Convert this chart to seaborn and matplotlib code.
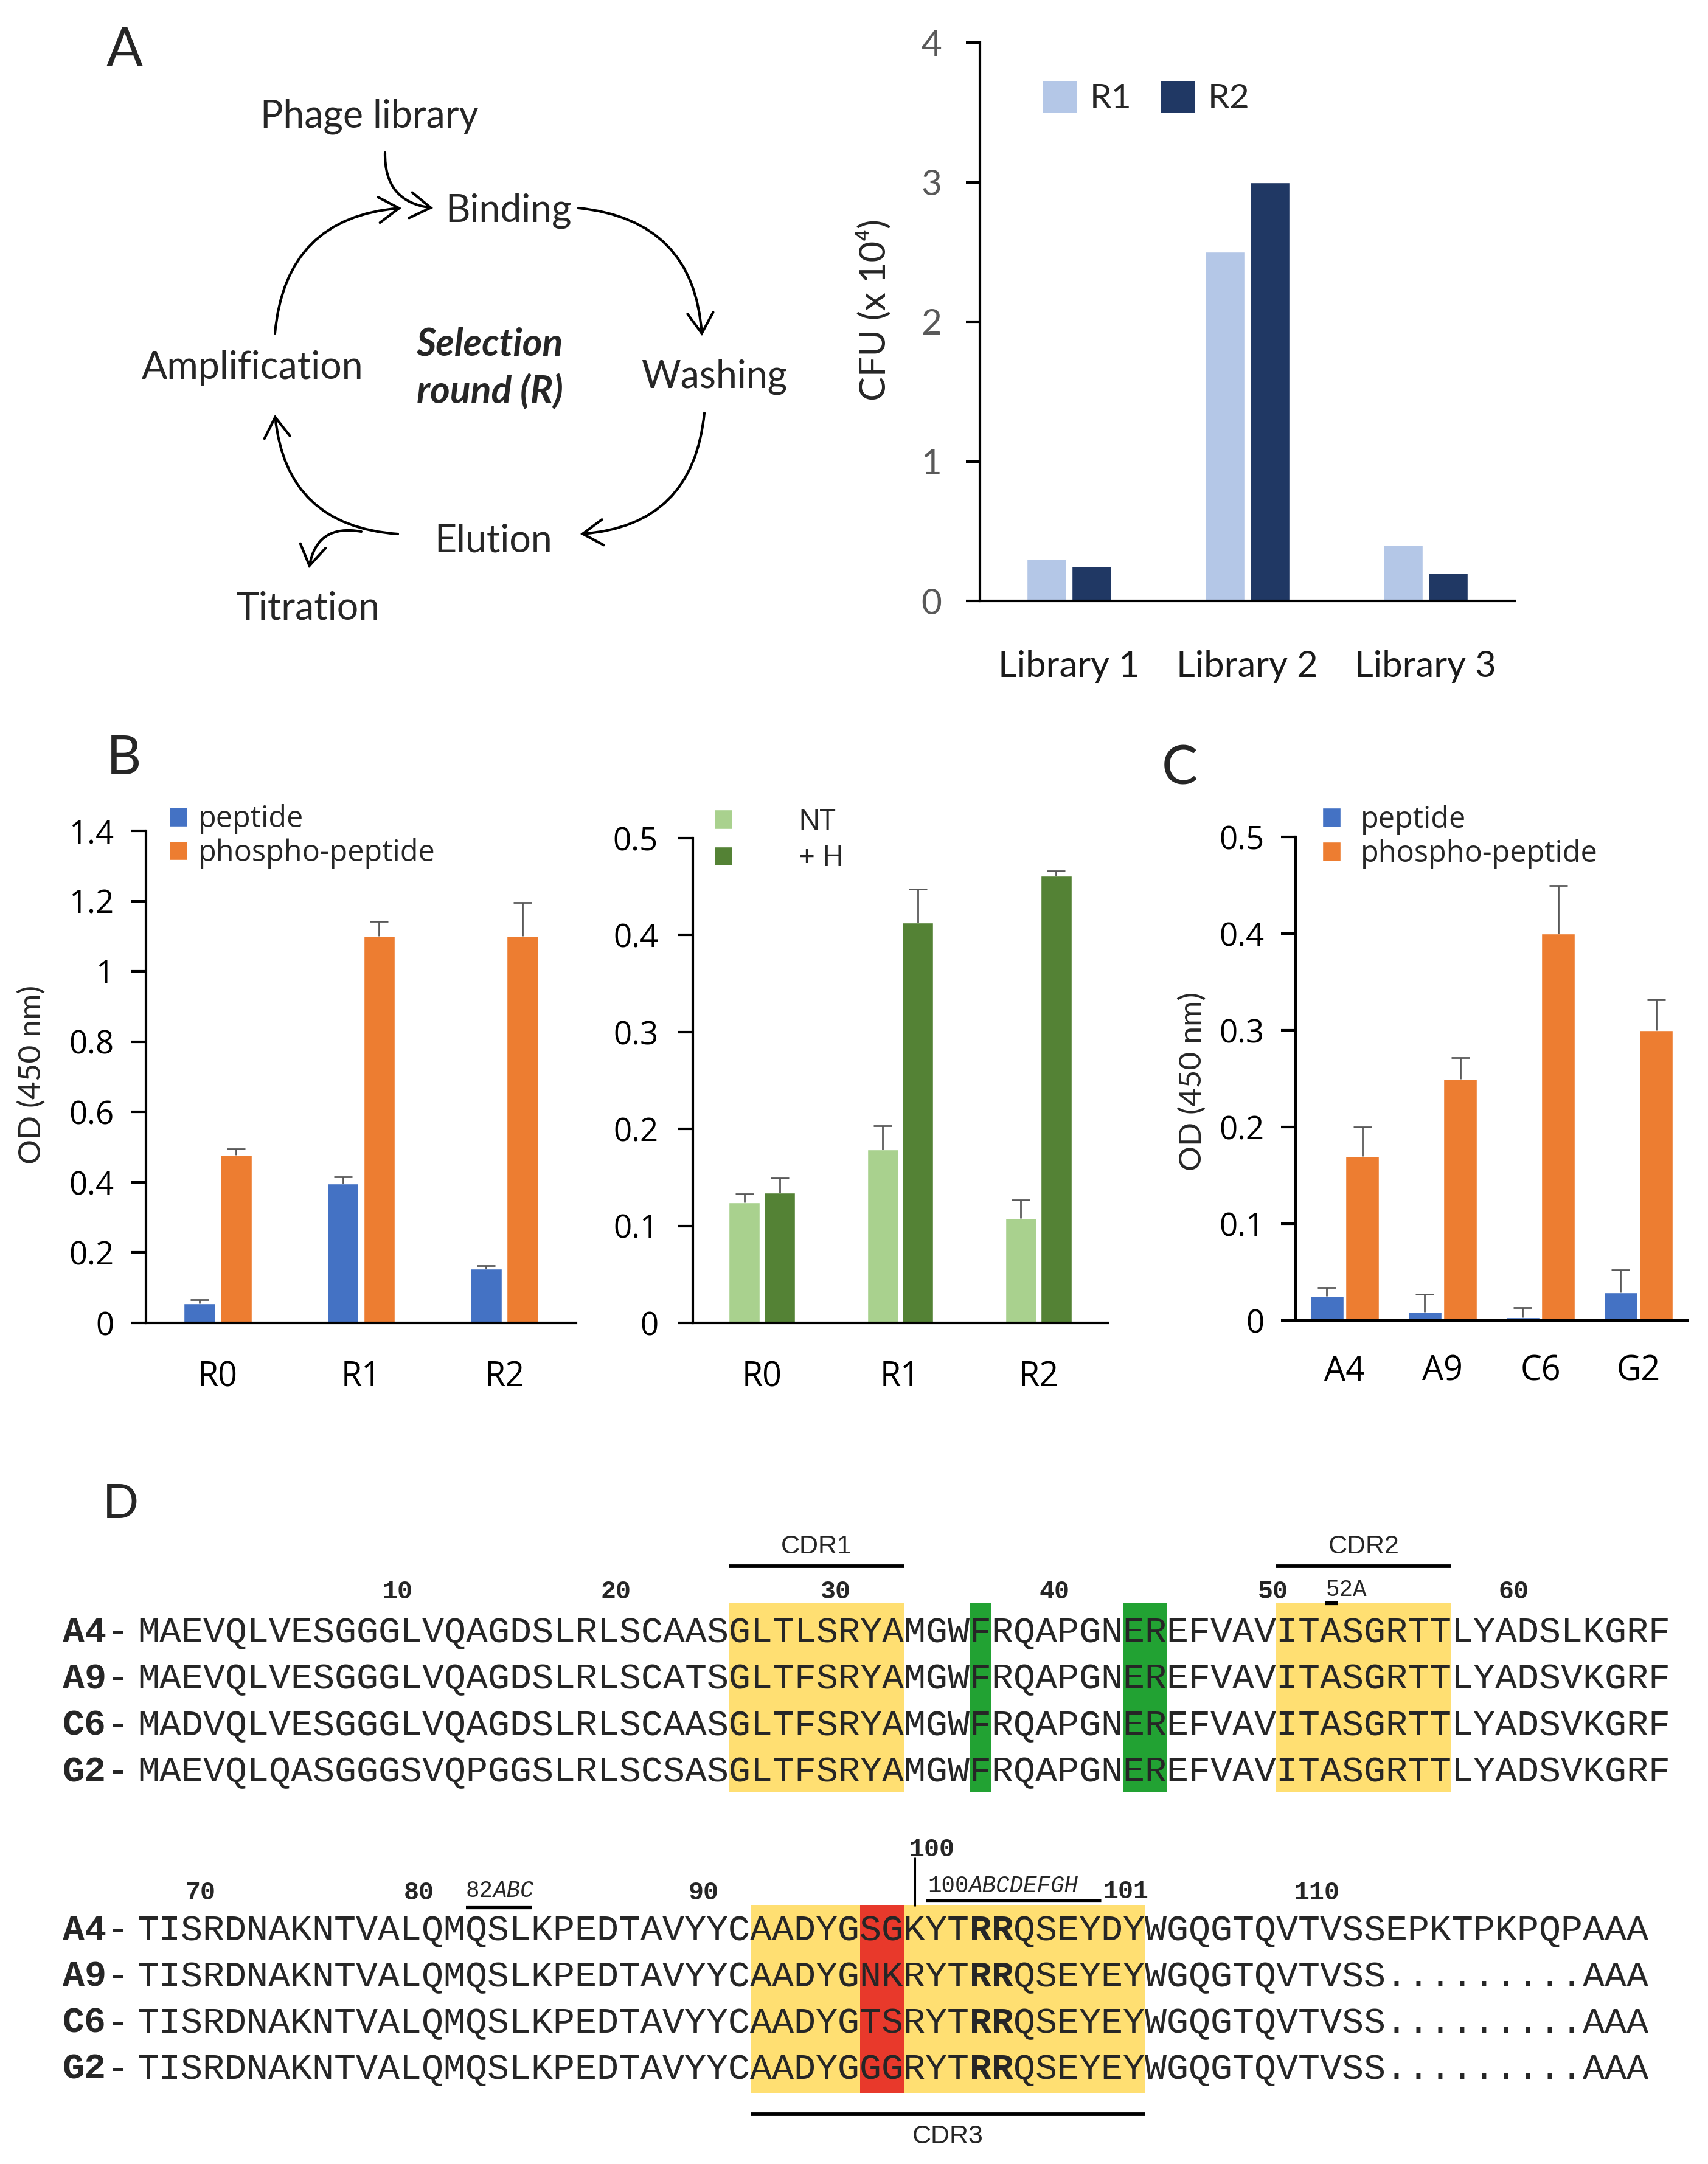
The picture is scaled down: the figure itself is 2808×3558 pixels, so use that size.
import numpy as np
import pandas as pd
import matplotlib
matplotlib.use("Agg")
import matplotlib.pyplot as plt
import seaborn as sns
from matplotlib.patches import FancyArrowPatch, Rectangle

# ---------------- data ----------------
libraries = ["Library 1", "Library 2", "Library 3"]
cfu_r1 = [0.30, 2.50, 0.40]
cfu_r2 = [0.25, 3.00, 0.20]

rounds = ["R0", "R1", "R2"]
b_peptide = [0.055, 0.397, 0.154]
b_peptide_err = [0.010, 0.018, 0.009]
b_phospho = [0.478, 1.100, 1.100]
b_phospho_err = [0.017, 0.043, 0.096]

b_nt = [0.124, 0.179, 0.108]
b_nt_err = [0.009, 0.024, 0.019]
b_h = [0.134, 0.413, 0.461]
b_h_err = [0.015, 0.034, 0.005]

clones = ["A4", "A9", "C6", "G2"]
c_peptide = [0.025, 0.009, 0.003, 0.029]
c_peptide_err = [0.009, 0.018, 0.010, 0.023]
c_phospho = [0.17, 0.25, 0.40, 0.30]
c_phospho_err = [0.030, 0.022, 0.050, 0.032]

seq_names = ["A4", "A9", "C6", "G2"]
seq_block1 = [
    "MAEVQLVESGGGLVQAGDSLRLSCAASGLTLSRYAMGWFRQAPGNEREFVAVITASGRTTLYADSLKGRF",
    "MAEVQLVESGGGLVQAGDSLRLSCATSGLTFSRYAMGWFRQAPGNEREFVAVITASGRTTLYADSVKGRF",
    "MADVQLVESGGGLVQAGDSLRLSCAASGLTFSRYAMGWFRQAPGNEREFVAVITASGRTTLYADSVKGRF",
    "MAEVQLQASGGGSVQPGGSLRLSCSASGLTFSRYAMGWFRQAPGNEREFVAVITASGRTTLYADSVKGRF",
]
seq_block2 = [
    "TISRDNAKNTVALQMQSLKPEDTAVYYCAADYGSGKYTRRQSEYDYWGQGTQVTVSSEPKTPKPQPAAA",
    "TISRDNAKNTVALQMQSLKPEDTAVYYCAADYGNKRYTRRQSEYEYWGQGTQVTVSS.........AAA",
    "TISRDNAKNTVALQMQSLKPEDTAVYYCAADYGTSRYTRRQSEYEYWGQGTQVTVSS.........AAA",
    "TISRDNAKNTVALQMQSLKPEDTAVYYCAADYGGGRYTRRQSEYEYWGQGTQVTVSS.........AAA",
]
yellow_block1 = [(27, 34), (52, 59)]
green_block1 = [(38, 38), (45, 46)]
yellow_block2 = [(28, 45)]
red_block2 = [(33, 34)]
bold_block2 = [(38, 39)]
numbers_block1 = [("10", 11), ("20", 21), ("30", 31), ("40", 41), ("50", 51), ("60", 62)]
numbers_block2 = [("70", 2), ("80", 12), ("90", 25), ("110", 53)]
cdr_block1 = [("CDR1", 27, 34), ("CDR2", 52, 59)]
cdr_block2 = [("CDR3", 28, 45)]

# ---------------- style ----------------
sns.set_theme(style="white")
plt.rcParams["font.family"] = ["DejaVu Sans"]
LATO = ["Lato", "DejaVu Sans"]
OPEN = ["Open Sans", "DejaVu Sans"]
MONO = "Liberation Mono"
LW = 3.0

W, H = 2808, 3558
fig = plt.figure(figsize=(W / 100, H / 100), dpi=100)
fig.patch.set_facecolor("white")

ov = fig.add_axes([0, 0, 1, 1])
ov.set_xlim(0, W)
ov.set_ylim(H, 0)
ov.axis("off")
ov.patch.set_alpha(0)


def px_axes(l, t, r, b):
    ax = fig.add_axes([l / W, 1 - b / H, (r - l) / W, (b - t) / H])
    ax.patch.set_alpha(0)
    return ax


def fpx(pt):
    return pt * 100 / 72.0


def ctext(x, y, s, size, capfrac=0.72, **kw):
    """text whose capital letters are vertically centred on y (pixel coords)"""
    return ov.text(x, y + capfrac * fpx(size) / 2, s, fontsize=size, va="baseline", **kw)


# ---------------- bar panels ----------------
def bar_panel(ax, cats, s1, s2, names, colors, width, gap, e1=None, e2=None, capsize=10.5):
    df = pd.DataFrame({
        "cat": cats + cats,
        "val": list(s1) + list(s2),
        "series": [names[0]] * len(cats) + [names[1]] * len(cats),
    })
    sns.barplot(data=df, x="cat", y="val", hue="series", palette=colors, width=width,
                gap=gap, saturation=1, errorbar=None, legend=False, ax=ax, zorder=2)
    if e1 is not None:
        for cont, vals, errs in zip(ax.containers, (s1, s2), (e1, e2)):
            xs = [p.get_x() + p.get_width() / 2 for p in cont]
            eb = ax.errorbar(xs, vals, yerr=[np.zeros(len(vals)), errs], fmt="none",
                             ecolor="#595959", elinewidth=2.0, capsize=capsize,
                             capthick=2.0, zorder=3)
            eb[1][0].set_visible(False)
    ax.set_xlim(-0.5, len(cats) - 0.5)
    ax.set_xlabel("")
    ax.set_ylabel("")
    for s in ["top", "right"]:
        ax.spines[s].set_visible(False)
    for s in ["left", "bottom"]:
        ax.spines[s].set_linewidth(LW)
        ax.spines[s].set_color("black")


def y_ticks(ax, ticks, labels, size, family, color, pad, length=17):
    ax.set_yticks(ticks)
    ax.set_yticklabels(labels, fontsize=size, family=family, color=color)
    ax.tick_params(axis="y", left=True, length=length, width=LW, color="black", pad=pad)
    ax.tick_params(axis="x", bottom=False, length=0)


def x_labels(ax, size, family, pad, color="black"):
    ax.tick_params(axis="x", pad=pad)
    for lab in ax.get_xticklabels():
        lab.set_fontsize(size)
        lab.set_family(family)
        lab.set_color(color)


def legend_px(ax, names, x, y, size, family, hl, hh, pad, spacing, ncol=1, colsp=0.8):
    ax.legend(handles=list(ax.containers), labels=names, loc="upper left",
              bbox_to_anchor=(x / W, 1 - y / H), bbox_transform=fig.transFigure,
              frameon=False, borderaxespad=0, borderpad=0, handlelength=hl,
              handleheight=hh, handletextpad=pad, labelspacing=spacing, ncol=ncol,
              columnspacing=colsp, prop={"family": family, "size": size})


# Panel A bar chart
axA = px_axes(1611, 70, 2490, 988)
bar_panel(axA, libraries, cfu_r1, cfu_r2, ["R1", "R2"], ["#B4C7E7", "#203864"], 0.506, 0.12)
axA.set_ylim(0, 4)
y_ticks(axA, [0, 1, 2, 3, 4], ["0", "1", "2", "3", "4"], 42, LATO, "#595959", 29, length=16.5)
x_labels(axA, 43, LATO, 58, "#1a1a1a")
axA.set_ylabel("CFU (x 10⁴)", fontsize=43, family=LATO)
axA.yaxis.set_label_coords(-0.199, 0.521)
axA.yaxis.label.set_verticalalignment("center")
legend_px(axA, ["R1", "R2"], 1713, 132, 41, LATO, 1.02, 1.07, 0.36, 0.2, ncol=2, colsp=0.82)

# Panel B left
axB1 = px_axes(240, 1366, 947, 2175)
bar_panel(axB1, rounds, b_peptide, b_phospho, ["peptide", "phospho-peptide"],
          ["#4472C4", "#ED7D31"], 0.508, 0.134, b_peptide_err, b_phospho_err, capsize=11)
axB1.set_ylim(0, 1.4)
y_ticks(axB1, [0, 0.2, 0.4, 0.6, 0.8, 1.0, 1.2, 1.4],
        ["0", "0.2", "0.4", "0.6", "0.8", "1", "1.2", "1.4"], 38, OPEN, "black", 21)
x_labels(axB1, 40, OPEN, 44)
axB1.set_ylabel("OD (450 nm)", fontsize=37, family=LATO)
axB1.yaxis.set_label_coords(-0.266, 0.504)
axB1.yaxis.label.set_verticalalignment("center")
legend_px(axB1, ["peptide", "phospho-peptide"], 278, 1322, 35, OPEN, 0.62, 0.62, 0.37, 0.12)

# Panel B right
axB2 = px_axes(1139, 1378, 1821, 2175)
bar_panel(axB2, rounds, b_nt, b_h, ["NT", "+ H"], ["#A9D18E", "#548235"], 0.509, 0.12,
          b_nt_err, b_h_err)
axB2.set_ylim(0, 0.5)
y_ticks(axB2, [0, 0.1, 0.2, 0.3, 0.4, 0.5], ["0", "0.1", "0.2", "0.3", "0.4", "0.5"],
        38, OPEN, "black", 24)
x_labels(axB2, 40, OPEN, 44)
legend_px(axB2, ["NT", "+ H"], 1174, 1327, 34, OPEN, 0.64, 0.64, 2.3, 0.28)

# Panel C
axC = px_axes(2130, 1376, 2774, 2171)
bar_panel(axC, clones, c_peptide, c_phospho, ["peptide", "phospho-peptide"],
          ["#4472C4", "#ED7D31"], 0.724, 0.06, c_peptide_err, c_phospho_err)
axC.set_ylim(0, 0.5)
y_ticks(axC, [0, 0.1, 0.2, 0.3, 0.4, 0.5], ["0", "0.1", "0.2", "0.3", "0.4", "0.5"],
        38, OPEN, "black", 20)
x_labels(axC, 40, OPEN, 40)
axC.set_ylabel("OD (450 nm)", fontsize=37, family=LATO)
axC.yaxis.set_label_coords(-0.264, 0.494)
axC.yaxis.label.set_verticalalignment("center")
legend_px(axC, ["peptide", "phospho-peptide"], 2174, 1323, 35, OPEN, 0.62, 0.64, 0.68, 0.12)

# ---------------- panel labels ----------------
for lab, x, y, sz in [("A", 205, 77, 64), ("B", 204, 1241, 64), ("C", 1939, 1257, 64), ("D", 198, 2468, 56)]:
    ctext(x, y, lab, sz, family=LATO, ha="center")

# ---------------- Panel A diagram ----------------
dfs = 45
for s, x, y in [("Phage library", 607, 187), ("Binding", 836, 342), ("Washing", 1174, 615),
                ("Amplification", 415, 601), ("Elution", 811, 885), ("Titration", 506, 996)]:
    ctext(x, y, s, dfs, family=LATO, ha="center")
ctext(805, 562, "Selection", dfs, family=LATO, ha="center", weight="bold", style="italic")
ctext(805, 641, "round (R)", dfs, family=LATO, ha="center", weight="bold", style="italic")


def arc(p0, p1, rad):
    ov.add_patch(FancyArrowPatch(p0, p1, connectionstyle=f"arc3,rad={rad}",
                                 arrowstyle="->,head_length=0.6,head_width=0.38",
                                 mutation_scale=40, lw=3.0, color="black",
                                 shrinkA=0, shrinkB=0, joinstyle="miter"))


arc((633, 251), (712, 342), 0.45)
arc((452, 548), (660, 342), -0.42)
arc((951, 342), (1154, 552), -0.42)
arc((1158, 679), (954, 878), -0.42)
arc((654, 878), (452, 682), -0.42)
arc((594, 874), (508, 934), 0.5)

# ---------------- Panel D alignment ----------------
x0, cw = 226.0, 36.0
seq_fs = cw / 0.6 * 72 / 100.0  # monospace advance = 0.6 em
num_fs = 30
small_fs = 27
cdr_fs = 31


def col_left(i):
    return x0 + cw * i


def col_center(i):
    return x0 + cw * (i + 0.5)


def draw_block(rows, ys, spans, bold_spans, top, bot):
    for a, b, color in spans:
        ov.add_patch(Rectangle((col_left(a), top), cw * (b - a + 1), bot - top,
                               facecolor=color, edgecolor="none", zorder=1))
    for name, seq, y in zip(seq_names, rows, ys):
        ctext(103, y, name, seq_fs, capfrac=0.66, family=MONO, weight="bold", ha="left", zorder=3)
        ctext(103 + 2 * cw, y, "-", seq_fs, capfrac=0.66, family=MONO, ha="left", zorder=3)
        cuts = [0, len(seq)]
        for a, b in bold_spans:
            cuts += [a, b + 1]
        cuts = sorted(set(cuts))
        for c0, c1 in zip(cuts[:-1], cuts[1:]):
            bold = any(a <= c0 <= b for a, b in bold_spans)
            ctext(col_left(c0), y, seq[c0:c1], seq_fs, capfrac=0.66, family=MONO,
                  weight="bold" if bold else "normal", ha="left", zorder=3)


rows1_y = [2680 + 76.5 * i for i in range(4)]
rows2_y = [3170 + 76.0 * i for i in range(4)]
spans1 = [(a, b, "#FFDF72") for a, b in yellow_block1] + [(a, b, "#22A233") for a, b in green_block1]
spans2 = [(a, b, "#FFDF72") for a, b in yellow_block2] + [(a, b, "#E8392B") for a, b in red_block2]
draw_block(seq_block1, rows1_y, spans1, [], 2636, 2946)
draw_block(seq_block2, rows2_y, spans2, bold_block2, 3132, 3442)

for s, i in numbers_block1:
    ctext(col_center(i) + 13, 2614, s, num_fs, capfrac=0.66, family=MONO, weight="bold", ha="center")
for s, i in numbers_block2:
    ctext(col_center(i) + 13, 3109, s, num_fs, capfrac=0.66, family=MONO, weight="bold", ha="center")

# CDR bars and labels
for s, a, b in cdr_block1:
    ov.plot([col_left(a), col_left(b + 1)], [2575, 2575], color="black", lw=4.2, solid_capstyle="butt")
    ctext((col_left(a) + col_left(b + 1)) / 2, 2539, s, cdr_fs, family="Liberation Sans", ha="center")
for s, a, b in cdr_block2:
    ov.plot([col_left(a), col_left(b + 1)], [3476, 3476], color="black", lw=4.2, solid_capstyle="butt")
    ctext((col_left(a) + col_left(b + 1)) / 2, 3509, s, cdr_fs, family="Liberation Sans", ha="center")

# insertion labels
scw = 0.6 * fpx(small_fs)
# 52A
ctext(col_left(54) + 10, 2612, "52A", small_fs, capfrac=0.66, family=MONO, ha="left")
ov.plot([col_center(54) - 9, col_center(54) + 11], [2636, 2636], color="black", lw=4.5, solid_capstyle="butt")
# 82ABC
ctext(col_left(15), 3107, "82", small_fs, capfrac=0.66, family=MONO, ha="left")
ctext(col_left(15) + 2 * scw, 3107, "ABC", small_fs, capfrac=0.66, family=MONO, style="italic", ha="left")
ov.plot([col_left(15), col_left(18)], [3136, 3136], color="black", lw=4.5, solid_capstyle="butt")
# 100 with vertical marker
ctext(col_center(35) - 10, 3038, "100", num_fs, capfrac=0.66, family=MONO, weight="bold", ha="left")
ov.plot([col_center(35), col_center(35)], [3055, 3133], color="black", lw=2.2)
# 100ABCDEFGH
ctext(col_left(36) + 3, 3099, "100", small_fs, capfrac=0.66, family=MONO, ha="left")
ctext(col_left(36) + 3 + 3 * scw, 3099, "ABCDEFGH", small_fs, capfrac=0.66, family=MONO,
      style="italic", ha="left")
ov.plot([col_left(36), col_left(44)], [3125, 3125], color="black", lw=3.8, solid_capstyle="butt")
# 101
ctext(col_left(44) + 3, 3107, "101", num_fs, capfrac=0.66, family=MONO, weight="bold", ha="left")

fig.savefig("out.png", dpi=100, facecolor="white")
